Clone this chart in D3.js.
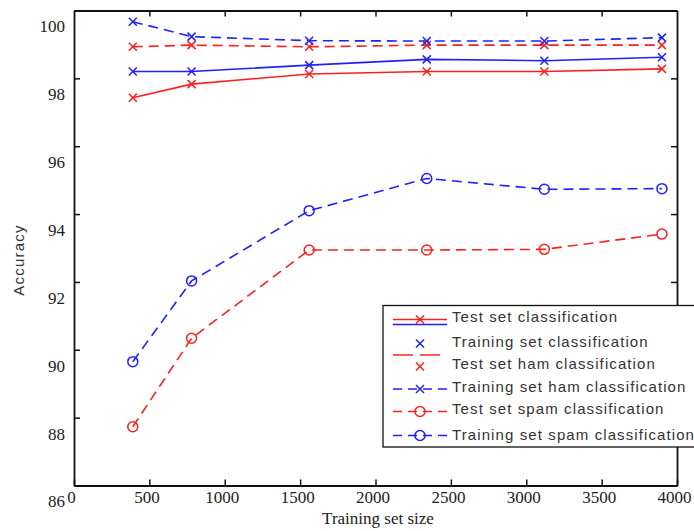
<!DOCTYPE html>
<html>
<head>
<meta charset="utf-8">
<script src="https://cdn.jsdelivr.net/npm/d3@7"></script>
<style>
  body { margin: 0; background: #fff; }
  svg { display: block; }
</style>
</head>
<body>
<div id="chart"></div>
<script>
//Chart data.
const sizes = [390, 780, 1560, 2340, 3120, 3900];
const testClass = [97.43, 97.83, 98.13, 98.20, 98.20, 98.28];
const trainClass = [98.20, 98.20, 98.39, 98.56, 98.52, 98.62];
const testHam = [98.93, 98.98, 98.93, 98.98, 98.98, 98.98];
const trainHam = [99.67, 99.23, 99.11, 99.10, 99.10, 99.20];
const testSpam = [87.73, 90.34, 92.94, 92.94, 92.96, 93.41];
const trainSpam = [89.65, 92.03, 94.10, 95.05, 94.73, 94.75];
const xTicks = [0, 500, 1000, 1500, 2000, 2500, 3000, 3500, 4000];
const yTicks = [86, 88, 90, 92, 94, 96, 98, 100];
const legendLabels = ["Test set classification", "Training set classification",
  "Test set ham classification", "Training set ham classification",
  "Test set spam classification", "Training set spam classification"];

const w = 694, h = 531;
const padL = 74, padR = 677, padT = 10.5, padB = 485.5;
const red = "#ff1f1f", blue = "#1f1fff";
const serif = "'Liberation Serif', 'Times New Roman', serif";
const sans = "'Liberation Sans', Arial, sans-serif";

const svg = d3.select("#chart").append("svg")
  .attr("width", w).attr("height", h);

const x = d3.scaleLinear().domain([0, 4000]).range([padL, padR]);
const y = d3.scaleLinear().domain([86, 100]).range([padB, padT]);

//series with their styles
const series = [
  {values: testClass, color: red, dash: null, marker: "x"},
  {values: trainClass, color: blue, dash: null, marker: "x"},
  {values: testHam, color: red, dash: "10,6", marker: "x"},
  {values: trainHam, color: blue, dash: "10,6", marker: "x"},
  {values: testSpam, color: red, dash: "10,6", marker: "o"},
  {values: trainSpam, color: blue, dash: "10,6", marker: "o"}
];

const line = d3.line().x(d => x(d[0])).y(d => y(d[1]));

function drawMarker(g, type, cx, cy, color) {
  if (type === "x") {
    g.append("path")
      .attr("d", `M${cx-4},${cy-4}L${cx+4},${cy+4}M${cx-4},${cy+4}L${cx+4},${cy-4}`)
      .attr("stroke", color).attr("stroke-width", 1.5).attr("fill", "none");
  } else {
    g.append("circle").attr("cx", cx).attr("cy", cy).attr("r", 5)
      .attr("stroke", color).attr("stroke-width", 1.5).attr("fill", "none");
  }
}

const plot = svg.append("g");
series.forEach(s => {
  const pts = sizes.map((v, i) => [v, s.values[i]]);
  plot.append("path")
    .attr("d", line(pts))
    .attr("fill", "none")
    .attr("stroke", s.color)
    .attr("stroke-width", 1.6)
    .attr("stroke-dasharray", s.dash);
  pts.forEach(p => drawMarker(plot, s.marker, x(p[0]), y(p[1]), s.color));
});

//axes, ticks pointing inwards
function styleAxis(g) {
  g.select(".domain").attr("stroke", "#111").attr("stroke-width", 1.8);
  g.selectAll(".tick line").attr("stroke", "#111").attr("stroke-width", 1.5);
}

const xAxis = svg.append("g")
  .attr("transform", `translate(0,${padB})`)
  .call(d3.axisBottom(x).tickValues(xTicks).tickFormat(d3.format("d"))
    .tickSize(-6).tickSizeOuter(0).tickPadding(0));
styleAxis(xAxis);
xAxis.selectAll(".tick text")
  .attr("y", 5.5).attr("dx", -3)
  .style("font-family", serif).style("font-size", "17px").attr("fill", "#222");

const yAxis = svg.append("g")
  .attr("transform", `translate(${padL},0)`)
  .call(d3.axisLeft(y).tickValues(yTicks).tickSize(-6).tickSizeOuter(0).tickPadding(9));
styleAxis(yAxis);
yAxis.selectAll(".tick text")
  .attr("y", 16)
  .style("font-family", serif).style("font-size", "17px").attr("fill", "#222");

const topAxis = svg.append("g")
  .attr("transform", `translate(0,${padT})`)
  .call(d3.axisTop(x).tickValues(xTicks.slice(1, -1)).tickSize(-6).tickSizeOuter(0).tickFormat(""));
styleAxis(topAxis);

const rightAxis = svg.append("g")
  .attr("transform", `translate(${padR},0)`)
  .call(d3.axisRight(y).tickValues(yTicks.slice(1, -1)).tickSize(-6).tickSizeOuter(0).tickFormat(""));
styleAxis(rightAxis);

//axis titles
svg.append("text")
  .attr("x", 378).attr("y", 524)
  .attr("text-anchor", "middle")
  .style("font-family", serif).style("font-size", "17px")
  .attr("fill", "#222")
  .text("Training set size");

svg.append("text")
  .attr("transform", "translate(24,260) rotate(-90)")
  .attr("text-anchor", "middle")
  .style("font-family", sans).style("font-size", "15px")
  .attr("letter-spacing", 1.2)
  .attr("fill", "#333")
  .text("Accuracy");

//legend (keeps the odd glyph layout of the original)
const lg = svg.append("g");
lg.append("rect")
  .attr("x", 383).attr("y", 305.5).attr("width", 330).attr("height", 141.5)
  .attr("fill", "#fff").attr("stroke", "#111").attr("stroke-width", 1.3);

const rowY = [317, 342, 364, 387, 409, 435];
lg.selectAll("text.lbl").data(legendLabels).enter().append("text")
  .attr("class", "lbl")
  .attr("x", 452).attr("y", (d, i) => rowY[i] + 5)
  .style("font-family", sans).style("font-size", "15px")
  .attr("letter-spacing", 1.1)
  .attr("fill", "#333")
  .text(d => d);

function legLine(y0, color, dash) {
  lg.append("line").attr("x1", 393).attr("x2", 447).attr("y1", y0).attr("y2", y0)
    .attr("stroke", color).attr("stroke-width", 1.6).attr("stroke-dasharray", dash);
}
legLine(319.5, red, null);
drawMarker(lg, "x", 420, 319.5, red);
legLine(324.5, blue, null);
drawMarker(lg, "x", 420, 343.5, blue);
legLine(355, red, "20,7");
drawMarker(lg, "x", 420, 366.5, red);
legLine(389, blue, "9,6");
drawMarker(lg, "x", 420, 389, blue);
legLine(411.5, red, "9,6");
drawMarker(lg, "o", 420, 411.5, red);
legLine(435.5, blue, "9,6");
drawMarker(lg, "o", 420, 435.5, blue);
</script>
</body>
</html>
